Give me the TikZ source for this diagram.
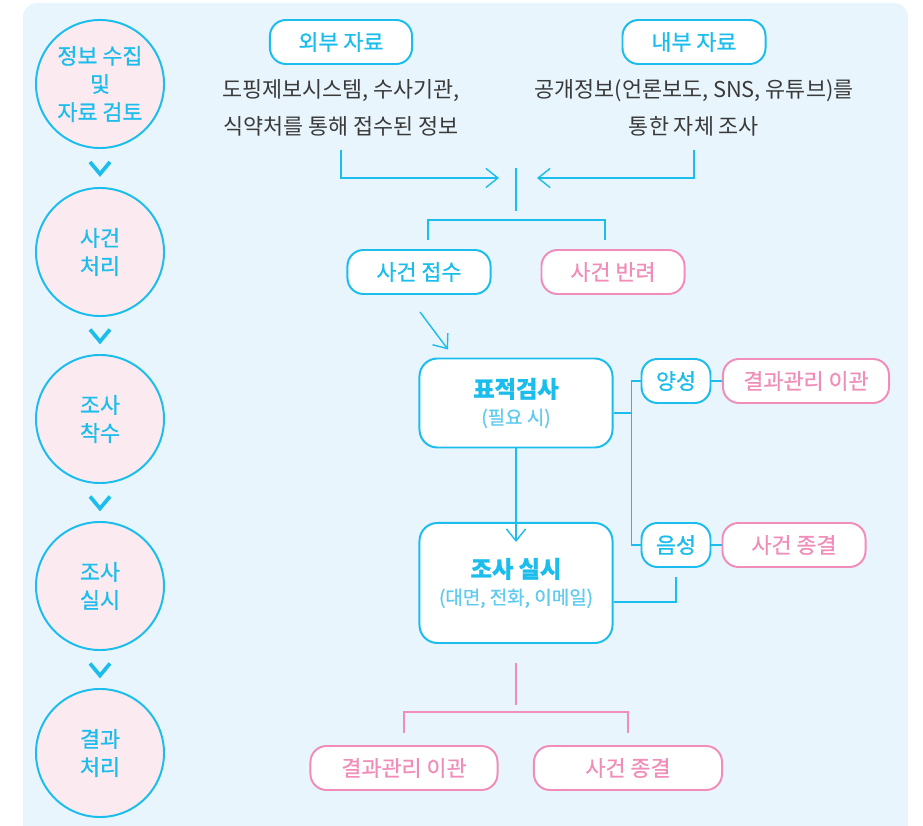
\documentclass[tikz,border=0pt]{standalone}
\usepackage{fontspec}
\setmainfont{Noto Sans CJK KR}
\newfontfamily\semifont[FakeBold=0.8]{Noto Sans CJK KR}
\usetikzlibrary{arrows.meta,calc}

\definecolor{skyline}{HTML}{1ABDEB}
\definecolor{skysoft}{HTML}{5FCBEF}
\definecolor{rosyline}{HTML}{F08DB8}
\definecolor{panelbg}{HTML}{E8F5FC}
\definecolor{stagebg}{HTML}{FCEAF1}
\definecolor{inktext}{HTML}{3A3A3A}

\tikzset{
  stage/.style={circle, draw=skyline, fill=stagebg, line width=1.4pt, minimum size=3.2cm,
    inner sep=0pt, align=center, text=skyline, font=\semifont\fontsize{15.5}{20}\selectfont},
  tagbox/.style={draw=skyline, fill=white, rounded corners=0.4cm, line width=1.4pt,
    minimum height=1.1cm, inner sep=0pt, text=skyline, font=\semifont\fontsize{15.5}{18}\selectfont},
  pinkbox/.style={tagbox, draw=rosyline, text=rosyline},
  bigbox/.style={tagbox, rounded corners=0.45cm, align=center, minimum width=4.825cm},
  note/.style={align=center, text=inktext, font=\fontsize{15.5}{26.3}\selectfont},
  link/.style={draw=skyline, line width=1pt},
  pinklink/.style={draw=rosyline, line width=1pt},
  barb/.style={-{Straight Barb[length=3mm,width=4.8mm]}},
  chevron/.style={draw=skyline, line width=2.6pt}
}

\begin{document}
\begin{tikzpicture}[x=0.025cm, y=-0.025cm]
    \useasboundingbox (0,0) rectangle (923,826);

    % Panel
    \fill[panelbg] (23,826) {[rounded corners=10] -- (23,3) -- (908,3)} -- (908,826) -- cycle;

    % Stages
    \node[stage] (s1) at (100,84) {정보 수집\\및\\자료 검토};
    \node[stage] (s2) at (100,252) {사건\\처리};
    \node[stage] (s3) at (100,419) {조사\\착수};
    \node[stage] (s4) at (100,586) {조사\\실시};
    \node[stage] (s5) at (100,753) {결과\\처리};

    \foreach \a/\b in {s1/s2, s2/s3, s3/s4, s4/s5}
        \draw[chevron] ($(\a.south)!0.5!(\b.north)$) ++(-10,-6) -- ++(10,12) -- ++(10,-12);

    % Sources
    \node[tagbox, minimum width=3.55cm] (ext) at (341,42) {외부 자료};
    \node[tagbox, minimum width=3.575cm] (int) at (694,42) {내부 자료};
    \node[note] (exttxt) at (341,108) {도핑제보시스템, 수사기관,\\식약처를 통해 접수된 정보};
    \node[note] (inttxt) at (694,108) {공개정보(언론보도, SNS, 유튜브)를\\통한 자체 조사};

    \coordinate (extfoot) at (341,150);
    \coordinate (intfoot) at (694,150);
    \coordinate (inL) at (499,178);
    \coordinate (inR) at (537,178);
    \coordinate (hubtop) at (516,168);
    \coordinate (hubfoot) at (516,211);

    \draw[link, barb] (extfoot) |- (inL);
    \draw[link, barb] (intfoot) |- (inR);
    \draw[link] (hubtop) -- (hubfoot);

    % Intake
    \node[tagbox, minimum width=3.575cm] (intake) at (419,272) {사건 접수};
    \node[pinkbox, minimum width=3.575cm] (reject) at (613,272) {사건 반려};
    \draw[link] ([shift={(9,-9)}]intake.north) |- ([shift={(-8,-29)}]reject.north)
        -- ([shift={(-8,-9)}]reject.north);

    % Probe and inquiry
    \node[bigbox, minimum height=2.225cm] (target) at (516,403)
        {{\bfseries\fontsize{16.5}{20}\selectfont 표적검사}\\[1pt]{\mdseries\fontsize{13.5}{16}\selectfont\color{skysoft}(필요 시)}};
    \node[bigbox, minimum height=3cm] (inquiry) at (516,583)
        {{\bfseries\fontsize{16.5}{20}\selectfont 조사 실시}\\[1pt]{\mdseries\fontsize{13.5}{16}\selectfont\color{skysoft}(대면, 전화, 이메일)}};
    \draw[link, barb] ([shift={(1,17)}]intake.south) -- ([shift={(-68,-8)}]target.north);
    \draw[link, barb, shorten >=-0.5cm] (target.south) -- (inquiry.north);

    % Results
    \node[tagbox, minimum width=1.725cm] (pos) at (676,381) {양성};
    \node[tagbox, minimum width=1.725cm] (neg) at (676,545) {음성};
    \node[pinkbox, minimum width=4.15cm] (posres) at (806,381) {결과관리 이관};
    \node[pinkbox, minimum width=3.575cm] (negres) at (794,545) {사건 종결};

    \draw[link] ([yshift=-0.25cm]target.east) -- ++(18,0) coordinate (fork);
    \draw[link] (pos.west) -| (fork) |- (neg.west);
    \draw[link] (pos) -- (posres);
    \draw[link] (neg) -- (negres);
    \draw[link] ([yshift=-0.475cm]inquiry.east) -| ([yshift=-0.225cm]neg.south);

    % Closing
    \node[pinkbox, minimum width=4.675cm] (endA) at (404,768) {결과관리 이관};
    \node[pinkbox, minimum width=4.7cm] (endB) at (628,768) {사건 종결};
    \draw[pinklink] ([yshift=-0.475cm]inquiry.south) -- ++(0,42);
    \draw[pinklink] ([yshift=0.3cm]endA.north) |- ([yshift=0.825cm]endB.north)
        -- ([yshift=0.3cm]endB.north);

\end{tikzpicture}
\end{document}
